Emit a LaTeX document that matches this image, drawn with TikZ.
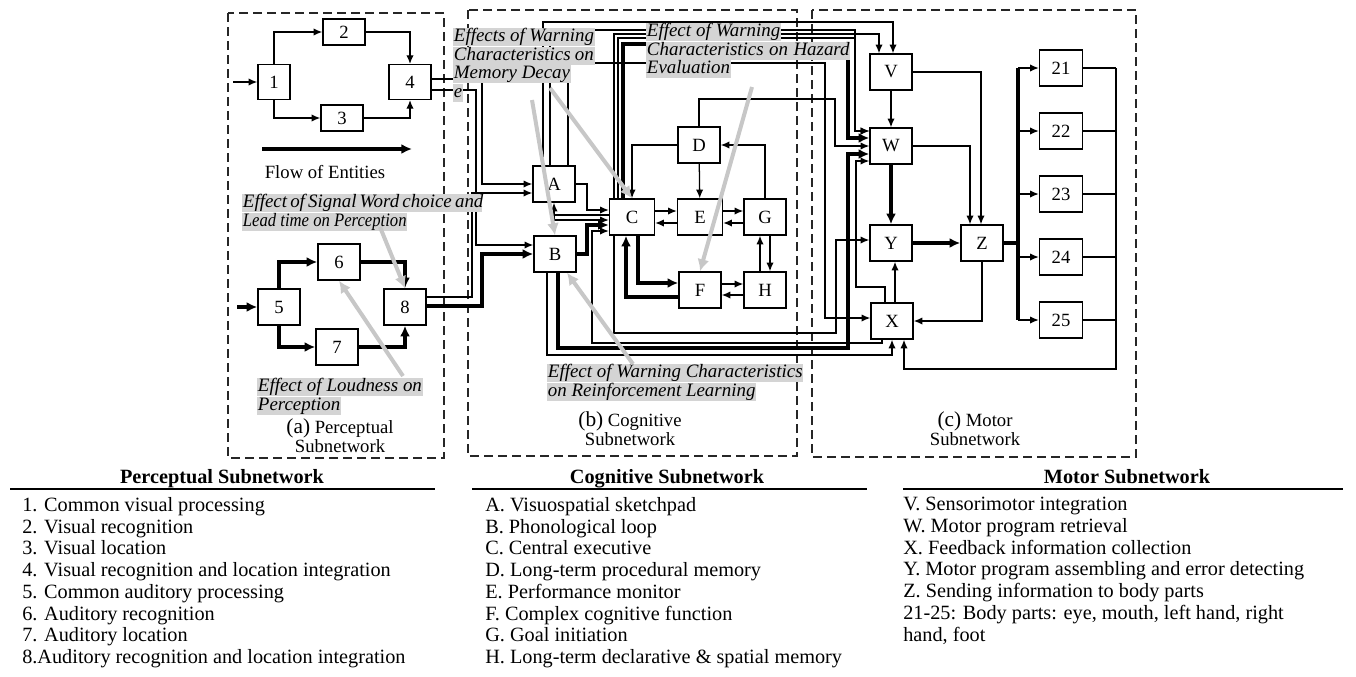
\documentclass[tikz,border=0pt]{standalone}
\usepackage{fontspec}
\setmainfont{Liberation Serif}
\usepackage{tikz}
\usetikzlibrary{arrows.meta,positioning}
\newcommand{\boxfont}{\fontsize{14}{14}\selectfont}
\newcommand{\effectfont}{\fontsize{14.2}{14}\selectfont\itshape}
\newcommand{\listfont}{\fontsize{15.2}{16.3}\selectfont}
\tikzset{
  netbox/.style={draw=black, line width=1.1pt, fill=white,
    minimum width=31.5pt, minimum height=27pt, inner sep=0pt,
    font=\boxfont},
  thinflow/.style={-{Latex[length=6.5pt,width=5.5pt]}, line width=0.95pt},
  thickflow/.style={-{Latex[length=8pt,width=7.5pt]}, line width=3pt},
  thinwire/.style={line width=0.95pt},
  thickwire/.style={line width=3pt},
  effectarrow/.style={-{Latex[length=9pt,width=9pt]}, line width=3pt,
    draw=black!22},
  effectlabel/.style={fill=black!17, inner xsep=0.5pt, inner ysep=0pt,
    text height=10pt, text depth=3.5pt, anchor=north west,
    font=\effectfont},
  subnet/.style={draw=black!85, line width=1.1pt,
    dash pattern=on 7pt off 3.5pt},
  subnetcaption/.style={align=center, font=\fontsize{14}{12.8}\selectfont},
  listhead/.style={anchor=base, font=\listfont\bfseries},
  listbody/.style={align=left, anchor=north west, inner sep=0pt,
    font=\listfont}
}

\begin{document}
\begin{tikzpicture}[x=0.75pt,y=-0.75pt]
  \useasboundingbox (0,0) rectangle (1356,676);
  \draw[subnet] (228,13) rectangle (444,458);
  \draw[subnet] (468,10) rectangle (797,456);
  \draw[subnet] (812,10) rectangle (1136,457);

  % perceptual subnetwork
  \node[netbox, minimum width=24pt, minimum height=26pt] (p1) at (274,82) {1};
  \node[netbox, minimum height=19.5pt] (p2) at (344,32) {2};
  \node[netbox, minimum height=19.5pt] (p3) at (342,118) {3};
  \node[netbox, minimum height=26pt] (p4) at (410,82) {4};
  \node[netbox] (p5) at (279,307) {5};
  \node[netbox] (p6) at (339,262) {6};
  \node[netbox] (p7) at (337,347) {7};
  \node[netbox] (p8) at (405,307) {8};
  \coordinate (vin) at (233,82);
  \coordinate (ain) at (237,307);
  \coordinate (flowtail) at (262,149);
  \coordinate (flowhead) at (412,149);
  \node[font=\fontsize{14}{14}\selectfont] (flowtext) at (325,172)
    {Flow of Entities};

  % cognitive subnetwork
  \node[netbox] (A) at (554,184) {A};
  \node[netbox] (B) at (555,254) {B};
  \node[netbox, minimum width=33.75pt] (C) at (632,217) {C};
  \node[netbox] (D) at (699,145) {D};
  \node[netbox, minimum width=33.75pt] (E) at (700,217) {E};
  \node[netbox] (G) at (765,217) {G};
  \node[netbox] (F) at (700,290) {F};
  \node[netbox] (H) at (765,290) {H};

  % motor subnetwork
  \node[netbox] (V) at (891,72) {V};
  \node[netbox] (W) at (891,146) {W};
  \node[netbox] (Y) at (891,243) {Y};
  \node[netbox] (X) at (892,321) {X};
  \node[netbox] (Z) at (982,243) {Z};
  \foreach \k/\yy in {21/68,22/131,23/194,24/257,25/320}
    \node[netbox, minimum width=32.25pt] (b\k) at (1061,\yy) {\k};

  \draw[thinflow] (vin) -- (p1);
  \draw[thinflow] (p1.north) |- (p2);
  \draw[thinflow] (p1.south) |- (p3);
  \draw[thinflow] (p2) -| (p4);
  \draw[thinflow] (p3) -| (p4);
  \draw[thickflow] (flowtail) -- (flowhead);
  \draw[thickflow] (ain) -- (p5);
  \draw[thickflow] (p5.north) |- (p6);
  \draw[thickflow] (p5.south) |- (p7);
  \draw[thickflow] (p6) -| (p8);
  \draw[thickflow] (p7) -| (p8);

  \draw[thinflow] (p4.east |- 0,79) -| (482,184) -- (A);
  \draw[thinflow] (p4.east |- 0,90) -| (476,245) -- (B.west |- 0,245);
  \draw[thinflow] (p8.east |- 0,297) -| (472,193) -- (A.west |- 0,193);
  \draw[thickflow] (p8.east |- 0,306) -| (482,254) -- (B);

  \draw[thinflow] (A) -| (587,210) -- (C.west |- 0,210);
  \draw[thinflow] (C.west |- 0,215) -| (A);
  \draw[thinflow] (A.south |- 0,215) |- (C.west |- 0,220);
  \draw[thickflow] (B) -| (587,225) -- (C.west |- 0,225);
  \draw[thinflow] (X.south -| 882,0) |- (592,343) |- (C.west |- 0,231);
  \draw[thinflow] (C.east |- 0,211) -- (E.west |- 0,211);
  \draw[thinflow] (E.west |- 0,223) -- (C.east |- 0,223);
  \draw[thinflow] (E.east |- 0,211) -- (G.west |- 0,211);
  \draw[thinflow] (G.west |- 0,223) -- (E.east |- 0,223);
  \draw[thinflow] (D) -- (E);
  \draw[thinflow] (D) -| (C);
  \draw[thinflow] (G) |- (D);
  \draw[thinflow] (H.north -| 760,0) -- (G.south -| 760,0);
  \draw[thinflow] (G.south -| 770,0) -- (H.north -| 770,0);
  \draw[thinflow] (F.east |- 0,284) -- (H.west |- 0,284);
  \draw[thinflow] (H.west |- 0,295) -- (F.east |- 0,295);
  \draw[thickflow] (C.south -| 638,0) |- (F.west |- 0,283);
  \draw[thickflow] (F.west |- 0,297) -| (C.south -| 626,0);

  \draw[thinflow] (D) |- (835,99) |- (W.west |- 0,146);
  \draw[thinflow] (A.north -| 543,0) |- (893,22) -- (V.north -| 893,0);
  \draw[thinflow] (A.north -| 550,0) |- (855,30) |- (W.west |- 0,131);
  \draw[thinflow] (A.north -| 568,0) |- (825,63) |- (X.west |- 0,318);
  \draw[thinflow] (C.north -| 614,0) |- (879,34) -- (V.north -| 879,0);
  \draw[thinflow] (C.north -| 618,0) |- (855,38) |- (W.west |- 0,131);
  \draw[thickflow] (C.north -| 623,0) |- (848,44) |- (W.west |- 0,138);
  \draw[thinflow] (B.south -| 547,0) |- (892,355) -- (X.south -| 892,0);
  \draw[thickflow] (B.south -| 558,0) |- (848,348) |- (W.west |- 0,154);
  \draw[thinflow] (C.south -| 614,0) |- (836,333) |- (Y.west |- 0,240);
  \draw[thinflow] (X.north -| 885,0) |- (856,287) |- (W.west |- 0,161);

  \draw[thinflow] (V) -- (W);
  \draw[thinflow] (V) -| (Z.north -| 981,0);
  \draw[thinflow] (W) -| (Z.north -| 970,0);
  \draw[thickflow] (W) -- (Y);
  \draw[thickflow] (Y) -- (Z);
  \draw[thinflow] (Z) |- (X);
  \draw[thinflow] (X.north -| 895,0) -- (Y.south -| 895,0);
  \draw[thickwire] (Z) -- (1018,243);
  \draw[thickwire] (b21.west -| 1018,0) -- (b25.west -| 1018,0);
  \foreach \k in {21,...,25} {
    \draw[thinflow] (b\k.west -| 1018,0) -- (b\k);
    \draw[thinwire] (b\k) -- (b\k.east -| 1116,0);
  }
  \draw[thinflow] (b21.east -| 1116,0) |- (904,369) -- (X.south -| 904,0);

  % effect labels
  \node[effectlabel] (memA) at (453,28)
    {\makebox[105pt][s]{Effects of Warning}};
  \node[effectlabel] (memB) at (memA.south west)
    {\makebox[105pt][s]{Characteristics on}};
  \node[effectlabel] (memC) at (memB.south west) {Memory Decay};
  \node[effectlabel] (memD) at (memC.south west) {e};
  \node[effectlabel] (hazA) at (646,23)
    {\makebox[100pt][s]{Effect of Warning}};
  \node[effectlabel] (hazB) at (hazA.south west)
    {\makebox[152pt][s]{Characteristics on Hazard}};
  \node[effectlabel] (hazC) at (hazB.south west) {Evaluation};
  \node[effectlabel] (sigA) at (242,194)
    {\makebox[179pt][s]{Effect of Signal Word choice and}};
  \node[effectlabel] (sigB) at (sigA.south west)
    {\scalebox{0.88}[1]{Lead time on Perception}};
  \node[effectlabel] (loudA) at (257,378)
    {\makebox[123pt][s]{Effect of Loudness on}};
  \node[effectlabel] (loudB) at (loudA.south west) {Perception};
  \node[effectlabel] (reinA) at (547,364)
    {\makebox[191pt][s]{Effect of Warning Characteristics}};
  \node[effectlabel] (reinB) at (reinA.south west)
    {on Reinforcement Learning};

  \coordinate (memtail1) at (532,100);
  \coordinate (memtail2) at (550,88);
  \coordinate (haztail) at (752,87);
  \coordinate (sigtail) at (380,227);
  \coordinate (loudtail) at (403,376);
  \coordinate (reintail) at (633,364);
  \draw[effectarrow] (memtail1) -- (B.north);
  \draw[effectarrow] (memtail2) -- (C.north);
  \draw[effectarrow] (haztail) -- (F.north);
  \draw[effectarrow] (sigtail) -- (p8.north);
  \draw[effectarrow] (loudtail) -- (p6.south);
  \draw[effectarrow] (reintail) -- ([xshift=9pt]B.south);

  \node[subnetcaption] (capa) at (340,436)
    {{\fontsize{16}{14}\selectfont(a)} Perceptual\\Subnetwork};
  \node[subnetcaption] (capb) at (630,429)
    {{\fontsize{16}{14}\selectfont(b)} Cognitive\\Subnetwork};
  \node[subnetcaption] (capc) at (975,429)
    {{\fontsize{16}{14}\selectfont(c)} Motor\\Subnetwork};

  % legend lists
  \node[listhead] (perchead) at (222,483) {Perceptual Subnetwork};
  \node[listhead] (coghead) at (667,483) {Cognitive Subnetwork};
  \node[listhead] (motorhead) at (1127,483) {Motor Subnetwork};
  \draw[line width=1.1pt] (10,489) -- (435,489);
  \draw[line width=1.1pt] (472,489) -- (867,489);
  \draw[line width=1.1pt] (903,489) -- (1343,489);
  \node[listbody] (perclist) at (22,497)
    {1. Common visual processing\\
     2. Visual recognition\\
     3. Visual location\\
     4. Visual recognition and location integration\\
     5. Common auditory processing\\
     6. Auditory recognition\\
     7. Auditory location\\
     8.Auditory recognition and location integration};
  \node[listbody] (coglist) at (485,497)
    {A. Visuospatial sketchpad\\
     B. Phonological loop\\
     C. Central executive\\
     D. Long-term procedural memory\\
     E. Performance monitor\\
     F. Complex cognitive function\\
     G. Goal initiation\\
     H. Long-term declarative \& spatial memory};
  \node[listbody] (motorlist) at (903,497)
    {V. Sensorimotor integration\\
     W. Motor program retrieval\\
     X. Feedback information collection\\
     Y. Motor program assembling and error detecting\\
     Z. Sending information to body parts\\
     21-25: Body parts: eye, mouth, left hand, right\\
     hand, foot};
\end{tikzpicture}
\end{document}
